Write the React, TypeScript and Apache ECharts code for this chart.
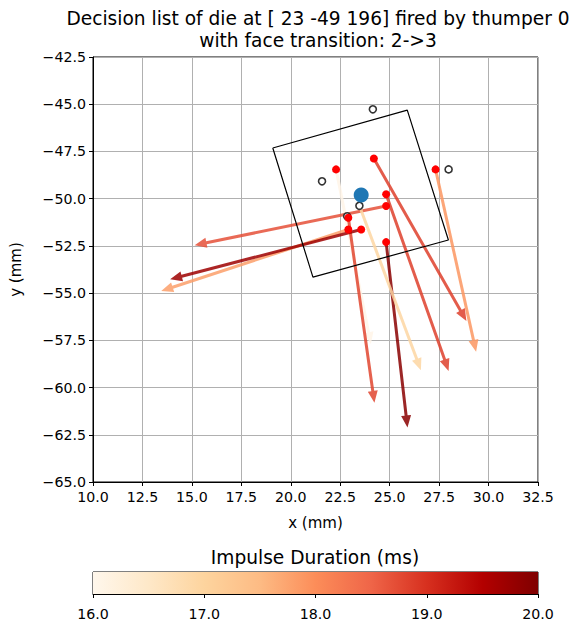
import React, { useEffect, useRef } from "react";
import * as echarts from "echarts";

// ---- data ----
const titleLines = ["Decision list of die at [ 23 -49 196] fired by thumper 0", "with face transition: 2->3"];
const xTickMin = 10;
const xTickMax = 32.5;
const yTickMin = -65;
const yTickMax = -42.5;
const tickStep = 2.5;

const dieCornersX = [19.09, 25.89, 27.97, 21.12];
const dieCornersY = [-47.32, -45.31, -52.19, -54.15];
const dieCenterX = [23.56];
const dieCenterY = [-49.81];

const hollowX = [24.15, 21.58, 27.98, 23.47, 22.85];
const hollowY = [-45.27, -49.08, -48.45, -50.38, -50.93];

const arrowStartX = [22.29, 24.2, 27.32, 24.82, 24.82, 22.91, 22.91, 23.56, 24.82, 23.47];
const arrowStartY = [-48.45, -47.87, -48.45, -49.77, -50.39, -51.01, -51.63, -51.63, -52.3, -50.38];
const arrowEndX = [24.05, 28.88, 29.37, 27.98, 15.14, 24.23, 13.45, 13.9, 25.9, 26.58];
const arrowEndY = [-57.7, -56.47, -58.11, -59.12, -52.46, -60.81, -54.89, -54.27, -62.11, -59.08];
const durations = [16.05, 18.85, 17.9, 18.85, 18.7, 18.8, 17.8, 19.7, 19.9, 16.95];
const hasStartDot = [true, true, true, true, true, true, true, true, true, false];

const cbMin = 16;
const cbMax = 20;
const cbTitle = "Impulse Duration (ms)";
const OrRd = ["#fff7ec", "#fee8c8", "#fdd49e", "#fdbb84", "#fc8d59", "#ef6548", "#d7301f", "#b30000", "#7f0000"];

const FONT = "DejaVu Sans";
const TICK_FS = 14.2;
const LABEL_FS = 15;
const TITLE_FS = 18.6;

export default function App() {
  const ref = useRef<HTMLDivElement>(null);
  useEffect(() => {
    if (!ref.current) return;
    const chart = echarts.init(ref.current, null, { renderer: "svg" });

    const arrowData = durations.map((d, i) => [arrowStartX[i], arrowStartY[i], arrowEndX[i], arrowEndY[i], d]);
    const startDots = arrowStartX
      .map((x, i) => (hasStartDot[i] ? [x, arrowStartY[i]] : null))
      .filter((p) => p !== null);
    const dieLine = dieCornersX.map((x, i) => [x, dieCornersY[i]]);
    dieLine.push([dieCornersX[0], dieCornersY[0]]);

    const fmtX = (v: number) => v.toFixed(1);
    const fmtY = (v: number) => (v < 0 ? "\u2212" + Math.abs(v).toFixed(1) : v.toFixed(1));

    const option: any = {
      animation: false,
      backgroundColor: "#fff",
      textStyle: { fontFamily: FONT },
      title: {
        text: titleLines.join("\n"),
        left: 313,
        top: 2,
        textAlign: "center",
        textStyle: { fontFamily: FONT, fontSize: TITLE_FS, fontWeight: "normal", color: "#000", lineHeight: 22 },
      },
      graphic: [
        {
          type: "text",
          x: 315,
          y: 557,
          style: {
            text: cbTitle,
            font: `${TITLE_FS}px "${FONT}"`,
            fill: "#000",
            textAlign: "center",
            textVerticalAlign: "middle",
          },
        },
      ],
      visualMap: {
        show: false,
        type: "continuous",
        min: cbMin,
        max: cbMax,
        dimension: 4,
        seriesIndex: 0,
        inRange: { color: OrRd },
      },
      grid: [
        { left: 93, top: 57, width: 445, height: 425, show: true, borderColor: "#000", borderWidth: 1, backgroundColor: "transparent" },
        { left: 93, top: 572, width: 445, height: 22, show: true, borderColor: "#000", borderWidth: 1, backgroundColor: "transparent" },
      ],
      xAxis: [
        {
          type: "value",
          gridIndex: 0,
          min: xTickMin,
          max: xTickMax,
          interval: tickStep,
          name: "x (mm)",
          nameLocation: "middle",
          nameGap: 33,
          nameTextStyle: { fontFamily: FONT, fontSize: LABEL_FS, color: "#000" },
          axisLine: { show: true, onZero: false, lineStyle: { color: "#000", width: 1 } },
          axisTick: { show: true, inside: false, length: 4, lineStyle: { color: "#000" } },
          axisLabel: { formatter: fmtX, fontFamily: FONT, fontSize: TICK_FS, color: "#000", margin: 8 },
          splitLine: { show: true, lineStyle: { color: "#b0b0b0", width: 1 } },
        },
        {
          type: "value",
          gridIndex: 1,
          min: cbMin,
          max: cbMax,
          interval: 1,
          axisLine: { show: true, onZero: false, lineStyle: { color: "#000", width: 1 } },
          axisTick: { show: true, inside: false, length: 4, lineStyle: { color: "#000" } },
          axisLabel: { formatter: fmtX, fontFamily: FONT, fontSize: TICK_FS, color: "#000", margin: 13 },
          splitLine: { show: false },
        },
      ],
      yAxis: [
        {
          type: "value",
          gridIndex: 0,
          min: yTickMin,
          max: yTickMax,
          interval: tickStep,
          name: "y (mm)",
          nameLocation: "middle",
          nameGap: 70,
          nameRotate: 90,
          nameTextStyle: { fontFamily: FONT, fontSize: LABEL_FS, color: "#000" },
          axisLine: { show: true, onZero: false, lineStyle: { color: "#000", width: 1 } },
          axisTick: { show: true, inside: false, length: 4, lineStyle: { color: "#000" } },
          axisLabel: { formatter: fmtY, fontFamily: FONT, fontSize: TICK_FS, color: "#000", margin: 7 },
          splitLine: { show: true, lineStyle: { color: "#b0b0b0", width: 1 } },
        },
        { type: "value", gridIndex: 1, min: 0, max: 1, show: false },
      ],
      series: [
        {
          type: "custom",
          xAxisIndex: 0,
          yAxisIndex: 0,
          z: 1,
          data: arrowData,
          renderItem: (params: any, api: any) => {
            const s = api.coord([api.value(0), api.value(1)]);
            const e = api.coord([api.value(2), api.value(3)]);
            const color = api.visual("color");
            const dx = e[0] - s[0];
            const dy = e[1] - s[1];
            const len = Math.hypot(dx, dy) || 1;
            const ux = dx / len;
            const uy = dy / len;
            const nx = -uy;
            const ny = ux;
            const HL = 12;
            const HW = 5;
            const SW = 1.5;
            const bx = e[0] - ux * HL;
            const by = e[1] - uy * HL;
            const pts = [
              [s[0] + nx * SW, s[1] + ny * SW],
              [bx + nx * SW, by + ny * SW],
              [bx + nx * HW, by + ny * HW],
              [e[0], e[1]],
              [bx - nx * HW, by - ny * HW],
              [bx - nx * SW, by - ny * SW],
              [s[0] - nx * SW, s[1] - ny * SW],
            ];
            return {
              type: "polygon",
              shape: { points: pts },
              style: { fill: color, opacity: 0.85, stroke: null },
            };
          },
        },
        {
          type: "line",
          xAxisIndex: 0,
          yAxisIndex: 0,
          z: 2,
          data: dieLine,
          showSymbol: false,
          symbol: "none",
          lineStyle: { color: "#000", width: 1.2 },
          silent: true,
        },
        {
          type: "scatter",
          xAxisIndex: 0,
          yAxisIndex: 0,
          z: 3,
          data: hollowX.map((x, i) => [x, hollowY[i]]),
          symbol: "circle",
          symbolSize: 7,
          itemStyle: { color: "#fff", borderColor: "#333", borderWidth: 1.6, opacity: 1 },
        },
        {
          type: "scatter",
          xAxisIndex: 0,
          yAxisIndex: 0,
          z: 4,
          data: startDots,
          symbol: "circle",
          symbolSize: 8,
          itemStyle: { color: "#ff0000", opacity: 1 },
        },
        {
          type: "scatter",
          xAxisIndex: 0,
          yAxisIndex: 0,
          z: 5,
          data: dieCenterX.map((x, i) => [x, dieCenterY[i]]),
          symbol: "circle",
          symbolSize: 15,
          itemStyle: { color: "#1f77b4", opacity: 1 },
        },
        {
          type: "custom",
          xAxisIndex: 1,
          yAxisIndex: 1,
          z: 1,
          data: [[cbMin, cbMax]],
          renderItem: (params: any, api: any) => {
            const a = api.coord([api.value(0), 1]);
            const b = api.coord([api.value(1), 0]);
            return {
              type: "rect",
              shape: { x: a[0], y: a[1], width: b[0] - a[0], height: b[1] - a[1] },
              style: {
                fill: {
                  type: "linear",
                  x: 0,
                  y: 0,
                  x2: 1,
                  y2: 0,
                  colorStops: OrRd.map((c, i) => ({ offset: i / (OrRd.length - 1), color: c })),
                },
              },
            };
          },
        },
      ],
    };
    chart.setOption(option);
    return () => chart.dispose();
  }, []);
  return <div ref={ref} style={{ position: "fixed", left: 0, top: 0, width: 574, height: 625 }} />;
}
